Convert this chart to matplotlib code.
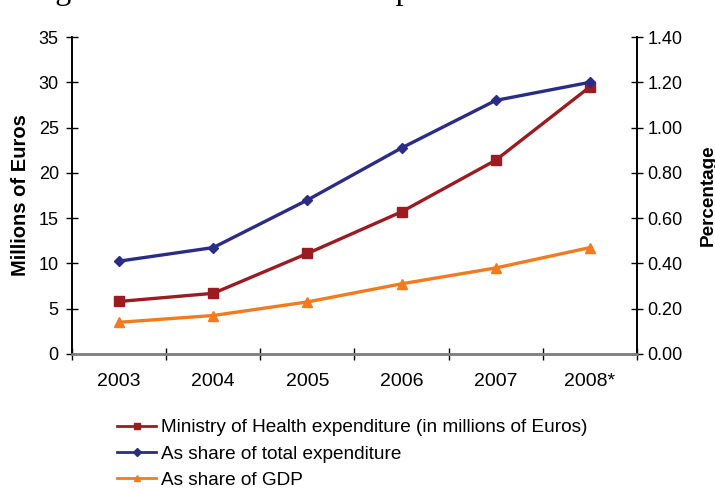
import matplotlib
matplotlib.use("Agg")
import matplotlib.pyplot as plt
from matplotlib.lines import Line2D
import numpy as np

plt.rcParams['font.family'] = ['Liberation Sans', 'DejaVu Sans']

years = ["2003", "2004", "2005", "2006", "2007", "2008*"]
moh_expenditure = [5.8, 6.7, 11.1, 15.7, 21.4, 29.5]          # millions of Euros
share_total_exp = [0.41, 0.47, 0.68, 0.91, 1.12, 1.20]        # percentage
share_gdp = [0.14, 0.17, 0.23, 0.31, 0.38, 0.47]              # percentage

red = "#9a1c22"
blue = "#2a2c86"
orange = "#f47a20"

fig = plt.figure(figsize=(7.15, 4.9), dpi=100)
ax = fig.add_axes([72/715, 1-354/490, (637-72)/715, (354-37)/490])
ax2 = ax.twinx()

x = np.arange(len(years))
ax.plot(x, moh_expenditure, color=red, lw=2.4, marker='s', ms=6.5, zorder=3)
ax2.plot(x, share_total_exp, color=blue, lw=2.4, marker='D', ms=5, zorder=3)
ax2.plot(x, share_gdp, color=orange, lw=2.4, marker='^', ms=6.5, zorder=3)

ax.set_xlim(-0.5, len(years) - 0.5)
ax.set_ylim(0, 35)
ax2.set_ylim(0, 1.4)
ax.set_yticks(np.arange(0, 36, 5))
ax2.set_yticks(np.arange(0, 1.41, 0.2))
ax2.set_yticklabels([f"{v:.2f}" for v in np.arange(0, 1.41, 0.2)])

ax.set_xticks(np.arange(-0.5, len(years), 1.0))
ax.set_xticklabels([])
ax.set_xticks(x, minor=True)
ax.set_xticklabels(years, minor=True)
ax.tick_params(axis='x', which='minor', length=0, pad=14, labelsize=14)
ax.tick_params(axis='x', which='major', direction='inout', length=9, width=1, color='black')

ax.tick_params(axis='y', direction='inout', length=9, width=1, labelsize=13, pad=5)
ax2.tick_params(axis='y', direction='inout', length=9, width=1, labelsize=13, pad=3)

for a in (ax, ax2):
    a.spines['top'].set_visible(False)
    a.spines['left'].set_color('black')
    a.spines['right'].set_color('black')
    a.spines['bottom'].set_color('#808080')
    a.spines['bottom'].set_linewidth(1.8)
    a.spines['left'].set_linewidth(1.2)
    a.spines['right'].set_linewidth(1.2)

ax.set_ylabel("Millions of Euros", fontsize=14.5, fontweight='bold', labelpad=6)
ax2.set_ylabel("Percentage", fontsize=13.6, fontweight='bold', labelpad=12)

handles = [
    Line2D([], [], color=red, lw=2, marker='s', ms=5),
    Line2D([], [], color=blue, lw=2, marker='D', ms=4),
    Line2D([], [], color=orange, lw=2, marker='^', ms=5),
]
labels = [
    "Ministry of Health expenditure (in millions of Euros)",
    "As share of total expenditure",
    "As share of GDP",
]
fig.legend(handles, labels, loc='upper left', bbox_to_anchor=(117/715, 1-419/490),
           frameon=False, fontsize=13.7, handlelength=2.05, handletextpad=0.26,
           labelspacing=0.47, borderaxespad=0, borderpad=0)

fig.text(9/715, 1+1/490, "Diagram 3: Trends in MoH expenditure between 2003 and 2008",
         family=['Liberation Serif'], fontsize=23, va='baseline', ha='left')

fig.savefig("out.png", dpi=100)
